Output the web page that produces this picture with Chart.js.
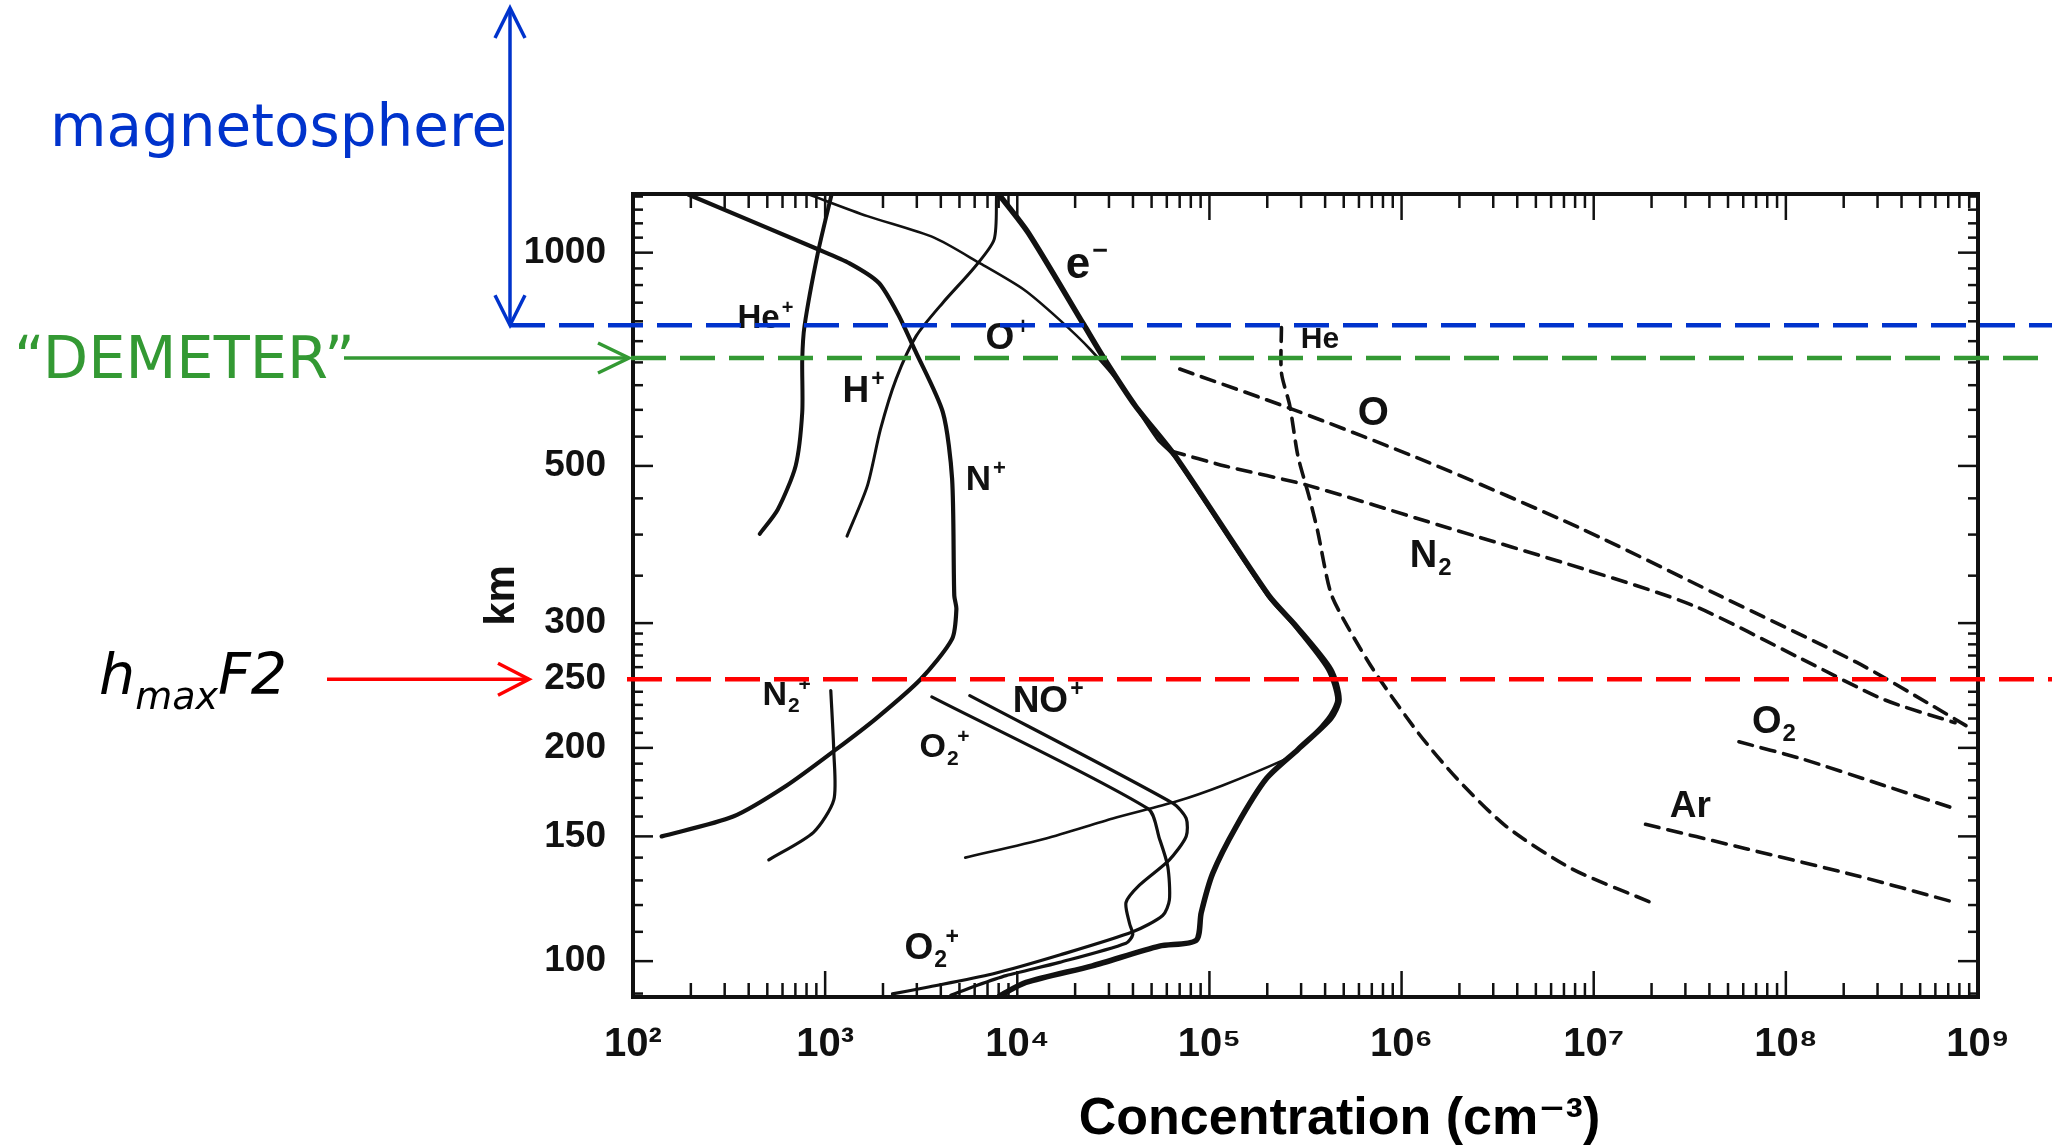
<!DOCTYPE html>
<html>
<head>
<meta charset="utf-8">
<script src="https://cdn.jsdelivr.net/npm/chart.js@4.4.1/dist/chart.umd.min.js"></script>
<style>
  html, body { margin: 0; padding: 0; background: #fff; }
  canvas { display: block; }
</style>
</head>
<body>
<canvas id="ionosphere-chart" width="2058" height="1146"></canvas>
<script>
// axis ticks
const xTickValues = [1e2, 1e3, 1e4, 1e5, 1e6, 1e7, 1e8, 1e9];
const xTickLabels = ['10²', '10³', '10⁴', '10⁵', '10⁶', '10⁷', '10⁸', '10⁹'];
const yTickValues = [100, 150, 200, 250, 300, 500, 1000];
const yTickLabels = ['100', '150', '200', '250', '300', '500', '1000'];

// ions (concentration cm-3 / altitude km)
const electronConc = [8030, 11400, 22200, 28200, 41100, 66500, 204000, 283000, 428000, 473000, 428000, 289000, 198000, 138000, 104000, 90600, 85300, 54900, 24600, 11100, 8080];
const electronAlt  = [1208, 1067, 791, 710, 608, 516, 328, 297, 258, 234, 220, 199, 181, 155, 133, 117, 107, 105, 98.5, 93.3, 89.3];

const oPlusConc = [824, 1660, 3690, 6310, 10800, 16500, 24000, 34900, 53600, 65500, 200000, 276000, 410000, 458000, 410000, 279000, 241000, 117000, 67100, 31400, 14100, 5360];
const oPlusAlt  = [1208, 1126, 1050, 968, 887, 805, 730, 648, 545, 516, 328, 297, 258, 234, 220, 197, 192, 177, 168, 159, 149, 140];

const hePlusConc = [1080, 917, 781, 760, 760, 702, 567, 457];
const hePlusAlt  = [1208, 1000, 788, 707, 595, 500, 434, 401];

const hPlusConc = [7800, 7580, 5980, 4100, 2980, 2340, 1940, 1660, 1300];
const hPlusAlt  = [1208, 1044, 953, 850, 763, 663, 563, 469, 398];

const nPlusConc = [194, 917, 1340, 1900, 2400, 2950, 4100, 4580, 4700, 4820, 4580, 3140, 1840, 1140, 631, 332, 141];
const nPlusAlt  = [1208, 1011, 966, 907, 818, 726, 595, 479, 328, 314, 285, 250, 220, 199, 177, 160, 150];

const n2PlusConc = [1070, 1110, 1110, 870, 509];
const n2PlusAlt  = [241, 197, 169, 152, 139];

const o2PlusConc = [3590, 48100, 54900, 60700, 61900, 57100, 39900, 16600, 7420, 3350, 2240];
const o2PlusAlt  = [236, 164, 149, 136, 122, 116, 110, 102, 95.9, 91.8, 89.9];

const noPlusConc = [5660, 64700, 75700, 75700, 61900, 43200, 36800, 38400, 39900, 36800, 16600, 8740, 6090, 4510];
const noPlusAlt  = [237, 167, 159, 150, 139, 128, 121, 113, 109, 106, 99.6, 95.4, 92.3, 89.5];

// neutrals
const heConc = [237000, 237000, 262000, 289000, 329000, 364000, 428000, 522000, 725000, 1.22e6, 1.94e6, 3.5e6, 7.7e6, 1.99e7];
const heAlt  = [784, 677, 608, 516, 454, 407, 331, 297, 256, 210, 181, 155, 135, 121];

const oConc = [70100, 271000, 1.4e6, 8.76e6, 4.52e7, 2.34e8, 5.85e8, 8.66e8];
const oAlt  = [685, 601, 505, 407, 328, 264, 229, 215];

const n2Conc = [63000, 120000, 329000, 1.59e6, 8.77e6, 3.26e7, 1.21e8, 3.24e8, 7.6e8];
const n2Alt  = [525, 500, 469, 412, 358, 318, 267, 234, 217];

const o2Conc = [5.7e7, 1.21e8, 3.24e8, 7.13e8];
const o2Alt  = [204, 193, 177, 165];

const arConc = [1.86e7, 6.28e7, 2.34e8, 7.6e8];
const arAlt  = [156, 144, 132, 121];

// reference altitudes (km)
const magnetosphereAlt = 790;
const demeterAlt = 710;
const hmaxF2Alt = 250;

const ink = '#111';
const blue = '#0033cc';
const green = '#339933';
const red = '#ff0000';
const sansBold = '"Liberation Sans", Arial, "DejaVu Sans", sans-serif';

function toPoints(conc, alt) {
    return conc.map((c, i) => ({ x: c, y: alt[i] }));
}

function solid(conc, alt, width) {
    return { data: toPoints(conc, alt), borderColor: ink, borderWidth: width };
}

function dashed(conc, alt) {
    return { data: toPoints(conc, alt), borderColor: ink, borderWidth: 3.6, borderDash: [14, 9] };
}

// species labels: text, subscript, superscript, concentration, altitude, font size
const speciesLabels = [
    ['e', '', '−', 17860, 922, 44],
    ['He', '', '+', 350, 784, 33],
    ['O', '', '+', 6840, 730, 37],
    ['H', '', '+', 1232, 616, 37],
    ['N', '', '+', 5385, 463, 35],
    ['He', '', '', 298800, 734, 30],
    ['O', '', '', 591700, 572, 40],
    ['N', '2', '', 1.104e6, 360, 38],
    ['O', '2', '', 6.66e7, 210, 38],
    ['Ar', '', '', 2.49e7, 160, 37],
    ['N', '2', '+', 472, 230, 34],
    ['NO', '', '+', 9460, 225, 37],
    ['O', '2', '+', 3100, 194, 34],
    ['O', '2', '+', 2590, 100.6, 37]
];

function drawChem(ctx, x, y, main, sub, sup, size) {
    ctx.font = `bold ${size}px ${sansBold}`;
    ctx.fillText(main, x, y);
    const cx = x + ctx.measureText(main).width;
    const small = Math.round(size * 0.62);
    ctx.font = `bold ${small}px ${sansBold}`;
    let subW = 0;
    if (sub) {
        ctx.fillText(sub, cx + 1, y + size * 0.22);
        subW = ctx.measureText(sub).width;
    }
    if (sup) {
        ctx.fillText(sup, cx + 2 + subW * 0.8, y - size * 0.42);
    }
}

function line(ctx, x1, y1, x2, y2) {
    ctx.beginPath();
    ctx.moveTo(x1, y1);
    ctx.lineTo(x2, y2);
    ctx.stroke();
}

function openArrow(ctx, tx, ty, dx, dy, back, half) {
    // tip at (tx, ty), pointing in direction (dx, dy)
    const px = -dy, py = dx;
    ctx.beginPath();
    ctx.moveTo(tx - dx * back + px * half, ty - dy * back + py * half);
    ctx.lineTo(tx, ty);
    ctx.lineTo(tx - dx * back - px * half, ty - dy * back - py * half);
    ctx.stroke();
}

const overlay = {
    id: 'overlay',
    afterDatasetsDraw(chart) {
        const { ctx, chartArea: a, scales: { x, y } } = chart;
        ctx.save();
        ctx.strokeStyle = ink;
        ctx.fillStyle = ink;

        // inward tick marks
        ctx.lineWidth = 2.5;
        for (let e = 2; e < 9; e++) {
            for (let k = 1; k < 10; k++) {
                const px = x.getPixelForValue(k * Math.pow(10, e));
                const len = k === 1 ? 26 : 14;
                line(ctx, px, a.bottom, px, a.bottom - len);
                line(ctx, px, a.top, px, a.top + len);
            }
        }
        const yMinor = [];
        for (let h = 90; h <= 300; h += 10) yMinor.push(h);
        for (let h = 350; h <= 1200; h += 50) yMinor.push(h);
        yMinor.forEach(h => {
            const py = y.getPixelForValue(h);
            const len = yTickValues.includes(h) ? 20 : 10;
            line(ctx, a.left, py, a.left + len, py);
            line(ctx, a.right, py, a.right - len, py);
        });

        // frame
        ctx.lineWidth = 4;
        ctx.strokeRect(a.left, a.top, a.right - a.left, a.bottom - a.top);

        // species labels
        ctx.textAlign = 'left';
        ctx.textBaseline = 'alphabetic';
        speciesLabels.forEach(([main, sub, sup, c, h, size]) => {
            drawChem(ctx, x.getPixelForValue(c), y.getPixelForValue(h), main, sub, sup, size);
        });

        // x axis title, sits a little right of centre in the original
        ctx.fillStyle = '#000';
        ctx.textAlign = 'center';
        ctx.textBaseline = 'middle';
        ctx.font = `bold 52px ${sansBold}`;
        ctx.fillText('Concentration (cm⁻³)', (a.left + a.right) / 2 + 34, 1120);
        ctx.restore();
    },
    afterDraw(chart) {
        const { ctx, scales: { y } } = chart;
        const yBlue = y.getPixelForValue(magnetosphereAlt);
        const yGreen = y.getPixelForValue(demeterAlt);
        const yRed = y.getPixelForValue(hmaxF2Alt);
        const rightEnd = 2052;
        ctx.save();
        ctx.lineCap = 'butt';
        ctx.textAlign = 'left';
        ctx.textBaseline = 'alphabetic';

        // magnetosphere
        ctx.strokeStyle = blue;
        ctx.fillStyle = blue;
        ctx.lineWidth = 3.5;
        line(ctx, 510, 8, 510, yBlue);
        openArrow(ctx, 510, 8, 0, -1, 30, 15);
        openArrow(ctx, 510, yBlue, 0, 1, 30, 15);
        ctx.lineWidth = 4.5;
        ctx.setLineDash([35, 14]);
        line(ctx, 510, yBlue, rightEnd, yBlue);
        ctx.setLineDash([]);
        ctx.font = '58px "DejaVu Sans", sans-serif';
        ctx.fillText('magnetosphere', 50, 146);

        // DEMETER
        ctx.strokeStyle = green;
        ctx.fillStyle = green;
        ctx.lineWidth = 3.5;
        line(ctx, 344, yGreen, 629, yGreen);
        openArrow(ctx, 629, yGreen, 1, 0, 31, 15);
        ctx.lineWidth = 4.5;
        ctx.setLineDash([35, 14]);
        line(ctx, 631, yGreen, rightEnd, yGreen);
        ctx.setLineDash([]);
        ctx.font = '59px "DejaVu Sans", sans-serif';
        ctx.fillText('“DEMETER”', 14, 378);

        // hmaxF2
        ctx.strokeStyle = red;
        ctx.lineWidth = 3.5;
        line(ctx, 327, yRed, 529, yRed);
        openArrow(ctx, 529, yRed, 1, 0, 31, 16);
        ctx.lineWidth = 4.5;
        ctx.setLineDash([35, 14]);
        line(ctx, 627, yRed, rightEnd, yRed);
        ctx.setLineDash([]);
        ctx.fillStyle = '#000';
        ctx.font = 'italic 57px "DejaVu Sans", sans-serif';
        ctx.fillText('h', 99, 694);
        let cx = 99 + ctx.measureText('h').width;
        ctx.font = 'italic 38px "DejaVu Sans", sans-serif';
        ctx.fillText('max', cx, 709);
        cx += ctx.measureText('max').width;
        ctx.font = 'italic 57px "DejaVu Sans", sans-serif';
        ctx.fillText('F2', cx, 694);
        ctx.restore();
    }
};

const data = {
    datasets: [
        dashed(heConc, heAlt),
        dashed(oConc, oAlt),
        dashed(n2Conc, n2Alt),
        dashed(o2Conc, o2Alt),
        dashed(arConc, arAlt),
        solid(oPlusConc, oPlusAlt, 2.6),
        solid(hPlusConc, hPlusAlt, 3),
        solid(n2PlusConc, n2PlusAlt, 3.2),
        solid(o2PlusConc, o2PlusAlt, 3.2),
        solid(noPlusConc, noPlusAlt, 3.2),
        solid(hePlusConc, hePlusAlt, 4),
        solid(nPlusConc, nPlusAlt, 4.2),
        solid(electronConc, electronAlt, 5.5)
    ]
};

const config = {
    type: 'line',
    data,
    options: {
        responsive: false,
        animation: false,
        devicePixelRatio: 1,
        layout: { padding: { left: 481, right: 80, top: 194, bottom: 0 } },
        plugins: { legend: { display: false }, tooltip: { enabled: false } },
        elements: {
            point: { radius: 0 },
            line: { tension: 0.25, fill: false, borderCapStyle: 'round', borderJoinStyle: 'round' }
        },
        scales: {
            x: {
                type: 'logarithmic',
                min: 1e2,
                max: 1e9,
                grid: { display: false },
                border: { display: false },
                afterBuildTicks: s => { s.ticks = xTickValues.map(v => ({ value: v })); },
                afterFit: s => { s.height = 149; },
                ticks: {
                    autoSkip: false,
                    maxRotation: 0,
                    padding: 16,
                    color: ink,
                    font: { family: sansBold, size: 40, weight: 'bold' },
                    callback: (v, i) => xTickLabels[i]
                }
            },
            y: {
                type: 'logarithmic',
                min: 89,
                max: 1210,
                grid: { display: false },
                border: { display: false },
                afterBuildTicks: s => { s.ticks = yTickValues.map(v => ({ value: v })); },
                afterFit: s => { s.width = 152; },
                ticks: {
                    autoSkip: false,
                    padding: 19,
                    color: ink,
                    font: { family: sansBold, size: 37, weight: 'bold' },
                    callback: (v, i) => yTickLabels[i]
                },
                title: {
                    display: true,
                    text: 'km',
                    color: ink,
                    font: { family: sansBold, size: 42, weight: 'bold', lineHeight: 1 },
                    padding: { top: 0, bottom: 0 }
                }
            }
        }
    },
    plugins: [overlay]
};

const ionosphereChart = new Chart(document.querySelector('#ionosphere-chart'), config);
</script>
</body>
</html>
